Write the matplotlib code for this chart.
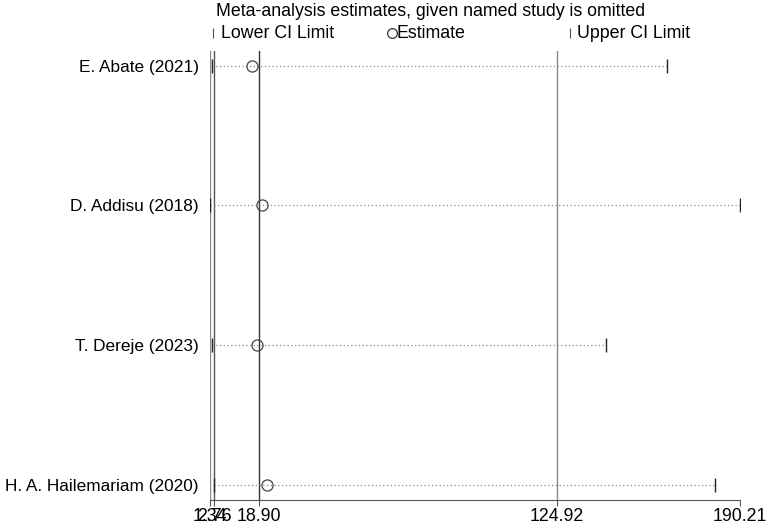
import matplotlib
matplotlib.use('Agg')
import matplotlib.pyplot as plt

plt.rcParams['font.family'] = ['Liberation Sans', 'DejaVu Sans']

# Dados
estudos = ['E. Abate (2021)', 'D. Addisu (2018)', 'T. Dereje (2023)', 'H. A. Hailemariam (2020)']
estimativa = [16.3, 19.8, 18.1, 21.5]
ic_inf = [2.2, 1.34, 2.0, 2.9]
ic_sup = [164.1, 190.21, 142.4, 181.3]

# Estimativa combinada
comb_inf = 2.76
comb_est = 18.90
comb_sup = 124.92
x_min = 1.34
x_max = 190.21

fs = 12.8

fig = plt.figure(figsize=(7.7, 5.28), dpi=100)
ax = fig.add_axes([210 / 770, 28 / 528, 530 / 770, 449 / 528])

pos = list(range(1, len(estudos) + 1))

# Linhas verticais
ax.axvline(x_min, color='#8a8a8a', lw=1.0)
ax.axvline(comb_inf, color='#555555', lw=1.0)
ax.axvline(comb_est, color='#333333', lw=1.0)
ax.axvline(comb_sup, color='#8a8a8a', lw=1.0)

for i in range(len(estudos)):
    ax.plot([ic_inf[i], ic_sup[i]], [pos[i], pos[i]], color='#8a8a8a', lw=0.9,
            linestyle=(0, (1, 2)))
ax.plot(ic_inf, pos, linestyle='none', marker='|', color='#222222', ms=10.5, mew=1.0)
ax.plot(ic_sup, pos, linestyle='none', marker='|', color='#222222', ms=10.5, mew=1.0)
ax.plot(estimativa, pos, linestyle='none', marker='o', mfc='none', mec='#444444',
        ms=8, mew=0.9)

ax.set_xlim(x_min, x_max)
ax.set_ylim(4.11, 0.895)
ax.set_xticks([x_min, comb_inf, comb_est, comb_sup, x_max])
ax.set_xticklabels(['1.34', '2.76', '18.90', '124.92', '190.21'], fontsize=fs)
ax.set_yticks(pos)
ax.set_yticklabels(estudos, fontsize=12.4)
ax.tick_params(axis='y', length=0, pad=8)
ax.tick_params(axis='x', length=4, width=0.8, color='#555555', pad=2)
for s in ['top', 'right', 'left']:
    ax.spines[s].set_visible(False)
ax.spines['bottom'].set_color('#555555')
ax.spines['bottom'].set_linewidth(0.8)

# Título e legenda
fig.text(216 / 770, 1 - 11 / 528, 'Meta-analysis estimates, given named study is omitted',
         fontsize=fs, va='center', ha='left')
ly = 1 - 33 / 528
ax.plot([213 / 770], [ly], transform=fig.transFigure, clip_on=False,
        marker='|', color='#555555', ms=7, mew=0.8, linestyle='none')
fig.text(221 / 770, ly, 'Lower CI Limit', fontsize=fs, va='center', ha='left')
ax.plot([392 / 770], [ly], transform=fig.transFigure, clip_on=False,
        marker='o', mfc='none', mec='#333333', ms=7, mew=0.9, linestyle='none')
fig.text(397 / 770, ly, 'Estimate', fontsize=fs, va='center', ha='left')
ax.plot([570 / 770], [ly], transform=fig.transFigure, clip_on=False,
        marker='|', color='#555555', ms=7, mew=0.8, linestyle='none')
fig.text(577 / 770, ly, 'Upper CI Limit', fontsize=fs, va='center', ha='left')

plt.savefig('out.png', dpi=100)
plt.close()
